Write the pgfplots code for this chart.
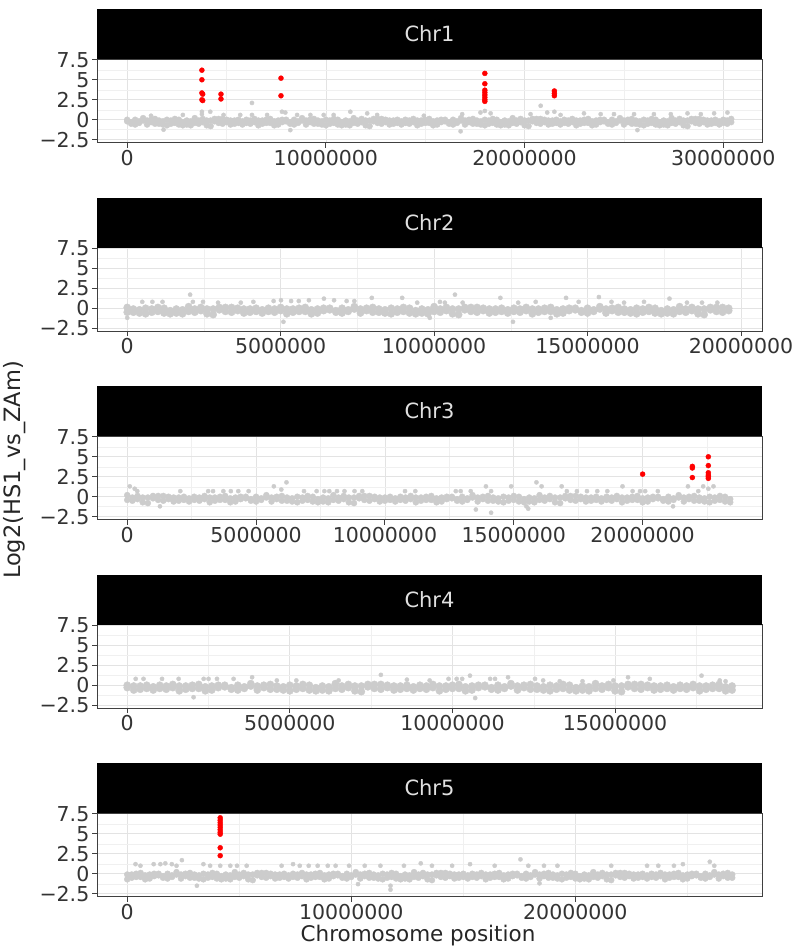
\documentclass[border=0pt]{standalone}
\usepackage{fontspec}
\setmainfont{DejaVu Sans}
\usepackage{pgfplots}
\usepackage{pgfplotstable}
\pgfplotsset{compat=1.18}
\definecolor{ptgrey}{gray}{0.80}
\definecolor{stripfg}{gray}{0.88}

% band tables: x (Mb), two readings a,b per position
\pgfplotstableread{
x a b
0.0 -0.2 0.0
0.2 -0.5 -0.3
0.4 0.0 -0.6
0.6 -0.4 -0.2
0.8 -0.1 0.2
1.0 -0.6 -0.1
1.2 -0.3 0.0
1.4 0.1 -0.5
1.6 -0.5 -0.1
1.8 -0.2 -0.6
2.0 -0.7 0.0
2.2 -0.1 -0.5
2.4 -0.4 0.1
2.6 0.0 -0.6
2.8 -0.3 -0.7
3.0 -0.6 -0.1
3.2 -0.2 -0.7
3.4 0.2 -0.4
3.6 -0.5 -0.1
3.8 -0.3 0.1
4.0 -0.1 -0.7
4.2 -0.8 -0.1
4.4 -0.2 0.1
4.6 -0.4 0.1
4.8 0.1 -0.5
5.0 -0.3 0.0
5.2 -0.6 -0.1
5.4 -0.1 -0.5
5.6 -0.4 0.0
5.8 -0.2 -0.6
6.0 0.0 -0.4
6.2 -0.5 -0.1
6.4 -0.3 0.1
6.6 -0.7 -0.1
6.8 -0.1 -0.5
7.0 -0.4 0.0
7.2 0.1 -0.4
7.4 -0.2 -0.7
7.6 -0.6 -0.1
7.8 -0.3 0.0
8.0 -0.2 0.0
8.2 -0.5 -0.3
8.4 0.0 -0.6
8.6 -0.4 -0.2
8.8 -0.1 0.2
9.0 -0.6 -0.1
9.2 -0.3 0.0
9.4 0.1 -0.5
9.6 -0.5 -0.1
9.8 -0.2 -0.6
10.0 -0.7 0.0
10.2 -0.1 -0.5
10.4 -0.4 0.1
10.6 0.0 -0.6
10.8 -0.3 -0.7
11.0 -0.6 -0.1
11.2 -0.2 -0.7
11.4 0.2 -0.4
11.6 -0.5 -0.1
11.8 -0.3 0.1
12.0 -0.1 -0.7
12.2 -0.8 -0.1
12.4 -0.2 0.1
12.6 -0.4 0.1
12.8 0.1 -0.5
13.0 -0.3 0.0
13.2 -0.6 -0.1
13.4 -0.1 -0.5
13.6 -0.4 0.0
13.8 -0.2 -0.6
14.0 0.0 -0.4
14.2 -0.5 -0.1
14.4 -0.3 0.1
14.6 -0.7 -0.1
14.8 -0.1 -0.5
15.0 -0.4 0.0
15.2 0.1 -0.4
15.4 -0.2 -0.7
15.6 -0.6 -0.1
15.8 -0.3 0.0
16.0 -0.2 0.0
16.2 -0.5 -0.3
16.4 0.0 -0.6
16.6 -0.4 -0.2
16.8 -0.1 0.2
17.0 -0.6 -0.1
17.2 -0.3 0.0
17.4 0.1 -0.5
17.6 -0.5 -0.1
17.8 -0.2 -0.6
18.0 -0.7 0.0
18.2 -0.1 -0.5
18.4 -0.4 0.1
18.6 0.0 -0.6
18.8 -0.3 -0.7
19.0 -0.6 -0.1
19.2 -0.2 -0.7
19.4 0.2 -0.4
19.6 -0.5 -0.1
19.8 -0.3 0.1
20.0 -0.1 -0.7
20.2 -0.8 -0.1
20.4 -0.2 0.1
20.6 -0.4 0.1
20.8 0.1 -0.5
21.0 -0.3 0.0
21.2 -0.6 -0.1
21.4 -0.1 -0.5
21.6 -0.4 0.0
21.8 -0.2 -0.6
22.0 0.0 -0.4
22.2 -0.5 -0.1
22.4 -0.3 0.1
22.6 -0.7 -0.1
22.8 -0.1 -0.5
23.0 -0.4 0.0
23.2 0.1 -0.4
23.4 -0.2 -0.7
23.6 -0.6 -0.1
23.8 -0.3 0.0
24.0 -0.2 0.0
24.2 -0.5 -0.3
24.4 0.0 -0.6
24.6 -0.4 -0.2
24.8 -0.1 0.2
25.0 -0.6 -0.1
25.2 -0.3 0.0
25.4 0.1 -0.5
25.6 -0.5 -0.1
25.8 -0.2 -0.6
26.0 -0.7 0.0
26.2 -0.1 -0.5
26.4 -0.4 0.1
26.6 0.0 -0.6
26.8 -0.3 -0.7
27.0 -0.6 -0.1
27.2 -0.2 -0.7
27.4 0.2 -0.4
27.6 -0.5 -0.1
27.8 -0.3 0.1
28.0 -0.1 -0.7
28.2 -0.8 -0.1
28.4 -0.2 0.1
28.6 -0.4 0.1
28.8 0.1 -0.5
29.0 -0.3 0.0
29.2 -0.6 -0.1
29.4 -0.1 -0.5
29.6 -0.4 0.0
29.8 -0.2 -0.6
30.0 0.0 -0.4
30.2 -0.5 -0.1
30.4 -0.3 0.1
}\bandA

\pgfplotstableread{
x a b
0.0 0.1 -0.5
0.2 -0.5 -0.1
0.4 -0.2 -0.6
0.6 -0.7 0.0
0.8 -0.1 -0.5
1.0 -0.4 0.1
1.2 0.0 -0.6
1.4 -0.3 -0.7
1.6 -0.6 -0.1
1.8 -0.2 -0.7
2.0 0.2 -0.4
2.2 -0.5 -0.1
2.4 -0.3 0.1
2.6 -0.1 -0.7
2.8 -0.8 -0.1
3.0 -0.2 0.1
3.2 -0.4 0.1
3.4 0.1 -0.5
3.6 -0.3 0.0
3.8 -0.6 -0.1
4.0 -0.1 -0.5
4.2 -0.4 0.0
4.4 -0.2 -0.6
4.6 0.0 -0.4
4.8 -0.5 -0.1
5.0 -0.3 0.1
5.2 -0.7 -0.1
5.4 -0.1 -0.5
5.6 -0.4 0.0
5.8 0.1 -0.4
6.0 -0.2 -0.7
6.2 -0.6 -0.1
6.4 -0.3 0.0
6.6 -0.2 0.0
6.8 -0.5 -0.3
7.0 0.0 -0.6
7.2 -0.4 -0.2
7.4 -0.1 0.2
7.6 -0.6 -0.1
7.8 -0.3 0.0
8.0 0.1 -0.5
8.2 -0.5 -0.1
8.4 -0.2 -0.6
8.6 -0.7 0.0
8.8 -0.1 -0.5
9.0 -0.4 0.1
9.2 0.0 -0.6
9.4 -0.3 -0.7
9.6 -0.6 -0.1
9.8 -0.2 -0.7
10.0 0.2 -0.4
10.2 -0.5 -0.1
10.4 -0.3 0.1
10.6 -0.1 -0.7
10.8 -0.8 -0.1
11.0 -0.2 0.1
11.2 -0.4 0.1
11.4 0.1 -0.5
11.6 -0.3 0.0
11.8 -0.6 -0.1
12.0 -0.1 -0.5
12.2 -0.4 0.0
12.4 -0.2 -0.6
12.6 0.0 -0.4
12.8 -0.5 -0.1
13.0 -0.3 0.1
13.2 -0.7 -0.1
13.4 -0.1 -0.5
13.6 -0.4 0.0
13.8 0.1 -0.4
14.0 -0.2 -0.7
14.2 -0.6 -0.1
14.4 -0.3 0.0
14.6 -0.2 0.0
14.8 -0.5 -0.3
15.0 0.0 -0.6
15.2 -0.4 -0.2
15.4 -0.1 0.2
15.6 -0.6 -0.1
15.8 -0.3 0.0
16.0 0.1 -0.5
16.2 -0.5 -0.1
16.4 -0.2 -0.6
16.6 -0.7 0.0
16.8 -0.1 -0.5
17.0 -0.4 0.1
17.2 0.0 -0.6
17.4 -0.3 -0.7
17.6 -0.6 -0.1
17.8 -0.2 -0.7
18.0 0.2 -0.4
18.2 -0.5 -0.1
18.4 -0.3 0.1
18.6 -0.1 -0.7
18.8 -0.8 -0.1
19.0 -0.2 0.1
19.2 -0.4 0.1
19.4 0.1 -0.5
19.6 -0.3 0.0
}\bandB

\pgfplotstableread{
x a b
0.0 0.2 -0.4
0.2 -0.5 -0.1
0.4 -0.3 0.1
0.6 -0.1 -0.7
0.8 -0.8 -0.1
1.0 -0.2 0.1
1.2 -0.4 0.1
1.4 0.1 -0.5
1.6 -0.3 0.0
1.8 -0.6 -0.1
2.0 -0.1 -0.5
2.2 -0.4 0.0
2.4 -0.2 -0.6
2.6 0.0 -0.4
2.8 -0.5 -0.1
3.0 -0.3 0.1
3.2 -0.7 -0.1
3.4 -0.1 -0.5
3.6 -0.4 0.0
3.8 0.1 -0.4
4.0 -0.2 -0.7
4.2 -0.6 -0.1
4.4 -0.3 0.0
4.6 -0.2 0.0
4.8 -0.5 -0.3
5.0 0.0 -0.6
5.2 -0.4 -0.2
5.4 -0.1 0.2
5.6 -0.6 -0.1
5.8 -0.3 0.0
6.0 0.1 -0.5
6.2 -0.5 -0.1
6.4 -0.2 -0.6
6.6 -0.7 0.0
6.8 -0.1 -0.5
7.0 -0.4 0.1
7.2 0.0 -0.6
7.4 -0.3 -0.7
7.6 -0.6 -0.1
7.8 -0.2 -0.7
8.0 0.2 -0.4
8.2 -0.5 -0.1
8.4 -0.3 0.1
8.6 -0.1 -0.7
8.8 -0.8 -0.1
9.0 -0.2 0.1
9.2 -0.4 0.1
9.4 0.1 -0.5
9.6 -0.3 0.0
9.8 -0.6 -0.1
10.0 -0.1 -0.5
10.2 -0.4 0.0
10.4 -0.2 -0.6
10.6 0.0 -0.4
10.8 -0.5 -0.1
11.0 -0.3 0.1
11.2 -0.7 -0.1
11.4 -0.1 -0.5
11.6 -0.4 0.0
11.8 0.1 -0.4
12.0 -0.2 -0.7
12.2 -0.6 -0.1
12.4 -0.3 0.0
12.6 -0.2 0.0
12.8 -0.5 -0.3
13.0 0.0 -0.6
13.2 -0.4 -0.2
13.4 -0.1 0.2
13.6 -0.6 -0.1
13.8 -0.3 0.0
14.0 0.1 -0.5
14.2 -0.5 -0.1
14.4 -0.2 -0.6
14.6 -0.7 0.0
14.8 -0.1 -0.5
15.0 -0.4 0.1
15.2 0.0 -0.6
15.4 -0.3 -0.7
15.6 -0.6 -0.1
15.8 -0.2 -0.7
16.0 0.2 -0.4
16.2 -0.5 -0.1
16.4 -0.3 0.1
16.6 -0.1 -0.7
16.8 -0.8 -0.1
17.0 -0.2 0.1
17.2 -0.4 0.1
17.4 0.1 -0.5
17.6 -0.3 0.0
17.8 -0.6 -0.1
18.0 -0.1 -0.5
18.2 -0.4 0.0
18.4 -0.2 -0.6
18.6 0.0 -0.4
18.8 -0.5 -0.1
19.0 -0.3 0.1
19.2 -0.7 -0.1
19.4 -0.1 -0.5
19.6 -0.4 0.0
19.8 0.1 -0.4
20.0 -0.2 -0.7
20.2 -0.6 -0.1
20.4 -0.3 0.0
20.6 -0.2 0.0
20.8 -0.5 -0.3
21.0 0.0 -0.6
21.2 -0.4 -0.2
21.4 -0.1 0.2
21.6 -0.6 -0.1
21.8 -0.3 0.0
22.0 0.1 -0.5
22.2 -0.5 -0.1
22.4 -0.2 -0.6
22.6 -0.7 0.0
22.8 -0.1 -0.5
23.0 -0.4 0.1
23.2 0.0 -0.6
23.4 -0.3 -0.7
}\bandC

\pgfplotstableread{
x a b
0.0 -0.3 0.0
0.2 -0.6 -0.1
0.4 -0.1 -0.5
0.6 -0.4 0.0
0.8 -0.2 -0.6
1.0 0.0 -0.4
1.2 -0.5 -0.1
1.4 -0.3 0.1
1.6 -0.7 -0.1
1.8 -0.1 -0.5
2.0 -0.4 0.0
2.2 0.1 -0.4
2.4 -0.2 -0.7
2.6 -0.6 -0.1
2.8 -0.3 0.0
3.0 -0.2 0.0
3.2 -0.5 -0.3
3.4 0.0 -0.6
3.6 -0.4 -0.2
3.8 -0.1 0.2
4.0 -0.6 -0.1
4.2 -0.3 0.0
4.4 0.1 -0.5
4.6 -0.5 -0.1
4.8 -0.2 -0.6
5.0 -0.7 0.0
5.2 -0.1 -0.5
5.4 -0.4 0.1
5.6 0.0 -0.6
5.8 -0.3 -0.7
6.0 -0.6 -0.1
6.2 -0.2 -0.7
6.4 0.2 -0.4
6.6 -0.5 -0.1
6.8 -0.3 0.1
7.0 -0.1 -0.7
7.2 -0.8 -0.1
7.4 -0.2 0.1
7.6 -0.4 0.1
7.8 0.1 -0.5
8.0 -0.3 0.0
8.2 -0.6 -0.1
8.4 -0.1 -0.5
8.6 -0.4 0.0
8.8 -0.2 -0.6
9.0 0.0 -0.4
9.2 -0.5 -0.1
9.4 -0.3 0.1
9.6 -0.7 -0.1
9.8 -0.1 -0.5
10.0 -0.4 0.0
10.2 0.1 -0.4
10.4 -0.2 -0.7
10.6 -0.6 -0.1
10.8 -0.3 0.0
11.0 -0.2 0.0
11.2 -0.5 -0.3
11.4 0.0 -0.6
11.6 -0.4 -0.2
11.8 -0.1 0.2
12.0 -0.6 -0.1
12.2 -0.3 0.0
12.4 0.1 -0.5
12.6 -0.5 -0.1
12.8 -0.2 -0.6
13.0 -0.7 0.0
13.2 -0.1 -0.5
13.4 -0.4 0.1
13.6 0.0 -0.6
13.8 -0.3 -0.7
14.0 -0.6 -0.1
14.2 -0.2 -0.7
14.4 0.2 -0.4
14.6 -0.5 -0.1
14.8 -0.3 0.1
15.0 -0.1 -0.7
15.2 -0.8 -0.1
15.4 -0.2 0.1
15.6 -0.4 0.1
15.8 0.1 -0.5
16.0 -0.3 0.0
16.2 -0.6 -0.1
16.4 -0.1 -0.5
16.6 -0.4 0.0
16.8 -0.2 -0.6
17.0 0.0 -0.4
17.2 -0.5 -0.1
17.4 -0.3 0.1
17.6 -0.7 -0.1
17.8 -0.1 -0.5
18.0 -0.4 0.0
18.2 0.1 -0.4
18.4 -0.2 -0.7
18.6 -0.6 -0.1
}\bandD

\pgfplotstableread{
x a b
0.0 -0.7 -0.1
0.2 -0.1 -0.5
0.4 -0.4 0.0
0.6 0.1 -0.4
0.8 -0.2 -0.7
1.0 -0.6 -0.1
1.2 -0.3 0.0
1.4 -0.2 0.0
1.6 -0.5 -0.3
1.8 0.0 -0.6
2.0 -0.4 -0.2
2.2 -0.1 0.2
2.4 -0.6 -0.1
2.6 -0.3 0.0
2.8 0.1 -0.5
3.0 -0.5 -0.1
3.2 -0.2 -0.6
3.4 -0.7 0.0
3.6 -0.1 -0.5
3.8 -0.4 0.1
4.0 0.0 -0.6
4.2 -0.3 -0.7
4.4 -0.6 -0.1
4.6 -0.2 -0.7
4.8 0.2 -0.4
5.0 -0.5 -0.1
5.2 -0.3 0.1
5.4 -0.1 -0.7
5.6 -0.8 -0.1
5.8 -0.2 0.1
6.0 -0.4 0.1
6.2 0.1 -0.5
6.4 -0.3 0.0
6.6 -0.6 -0.1
6.8 -0.1 -0.5
7.0 -0.4 0.0
7.2 -0.2 -0.6
7.4 0.0 -0.4
7.6 -0.5 -0.1
7.8 -0.3 0.1
8.0 -0.7 -0.1
8.2 -0.1 -0.5
8.4 -0.4 0.0
8.6 0.1 -0.4
8.8 -0.2 -0.7
9.0 -0.6 -0.1
9.2 -0.3 0.0
9.4 -0.2 0.0
9.6 -0.5 -0.3
9.8 0.0 -0.6
10.0 -0.4 -0.2
10.2 -0.1 0.2
10.4 -0.6 -0.1
10.6 -0.3 0.0
10.8 0.1 -0.5
11.0 -0.5 -0.1
11.2 -0.2 -0.6
11.4 -0.7 0.0
11.6 -0.1 -0.5
11.8 -0.4 0.1
12.0 0.0 -0.6
12.2 -0.3 -0.7
12.4 -0.6 -0.1
12.6 -0.2 -0.7
12.8 0.2 -0.4
13.0 -0.5 -0.1
13.2 -0.3 0.1
13.4 -0.1 -0.7
13.6 -0.8 -0.1
13.8 -0.2 0.1
14.0 -0.4 0.1
14.2 0.1 -0.5
14.4 -0.3 0.0
14.6 -0.6 -0.1
14.8 -0.1 -0.5
15.0 -0.4 0.0
15.2 -0.2 -0.6
15.4 0.0 -0.4
15.6 -0.5 -0.1
15.8 -0.3 0.1
16.0 -0.7 -0.1
16.2 -0.1 -0.5
16.4 -0.4 0.0
16.6 0.1 -0.4
16.8 -0.2 -0.7
17.0 -0.6 -0.1
17.2 -0.3 0.0
17.4 -0.2 0.0
17.6 -0.5 -0.3
17.8 0.0 -0.6
18.0 -0.4 -0.2
18.2 -0.1 0.2
18.4 -0.6 -0.1
18.6 -0.3 0.0
18.8 0.1 -0.5
19.0 -0.5 -0.1
19.2 -0.2 -0.6
19.4 -0.7 0.0
19.6 -0.1 -0.5
19.8 -0.4 0.1
20.0 0.0 -0.6
20.2 -0.3 -0.7
20.4 -0.6 -0.1
20.6 -0.2 -0.7
20.8 0.2 -0.4
21.0 -0.5 -0.1
21.2 -0.3 0.1
21.4 -0.1 -0.7
21.6 -0.8 -0.1
21.8 -0.2 0.1
22.0 -0.4 0.1
22.2 0.1 -0.5
22.4 -0.3 0.0
22.6 -0.6 -0.1
22.8 -0.1 -0.5
23.0 -0.4 0.0
23.2 -0.2 -0.6
23.4 0.0 -0.4
23.6 -0.5 -0.1
23.8 -0.3 0.1
24.0 -0.7 -0.1
24.2 -0.1 -0.5
24.4 -0.4 0.0
24.6 0.1 -0.4
24.8 -0.2 -0.7
25.0 -0.6 -0.1
25.2 -0.3 0.0
25.4 -0.2 0.0
25.6 -0.5 -0.3
25.8 0.0 -0.6
26.0 -0.4 -0.2
26.2 -0.1 0.2
26.4 -0.6 -0.1
26.6 -0.3 0.0
26.8 0.1 -0.5
27.0 -0.5 -0.1
}\bandE

\pgfplotsset{
  chr/.style={
    width=665bp, height=83.5bp, scale only axis,
    anchor=north west,
    ymin=-2.85, ymax=7.6,
    ytick={-2.5,0,2.5,5,7.5},
    yticklabels={−2.5,0,2.5,5,7.5},
    minor ytick={-1.25,1.25,3.75,6.25},
    grid=both,
    major grid style={draw=black!11, line width=0.7bp},
    minor grid style={draw=black!6, line width=0.45bp},
    axis line style={draw=black!75, line width=0.9bp},
    major tick style={draw=black!75, line width=0.9bp},
    tick align=outside, major tick length=5bp, minor tick length=0pt,
    xtick pos=bottom, ytick pos=left,
    tick label style={font=\fontsize{20.5bp}{24bp}\selectfont, text=black!80},
    yticklabel style={inner sep=2.5bp},
    xticklabel style={inner sep=2.5bp},
  },
  band/.style={only marks, mark=*, mark size=3bp, color=ptgrey},
  bandw/.style={only marks, mark=*, mark size=3.6bp, color=ptgrey},
  out/.style={only marks, mark=*, mark size=2.1bp, color=ptgrey},
  sig/.style={only marks, mark=*, mark size=2.5bp, color=red},
}

\begin{document}
\begin{tikzpicture}
\tikzset{strip/.style={fill=black}, striptext/.style={text=stripfg, font=\fontsize{21bp}{25bp}\selectfont}}

% ---------- Chr1 ----------
\begin{axis}[chr, at={(97bp,-59bp)},
  xmin=-1.52, xmax=31.95,
  xtick={0,10,20,30}, xticklabels={0,10000000,20000000,30000000},
  minor xtick={5,15,25}]
\addplot[band] table[x=x,y=a]{\bandA};
\addplot[band] table[x=x,y=b]{\bandA};
\addplot[out] coordinates {(3.76,1.0)(3.76,0.7)(4.18,1.0)(4.85,0.6)(5.69,0.6)(6.28,2.1)(6.28,0.6)(7.04,0.6)(7.79,1.0)(7.96,0.9)(8.55,0.6)(9.22,0.6)(9.89,0.6)(10.39,0.6)(11.23,1.0)(12.08,0.8)(12.58,0.6)(14.93,0.5)(16.86,0.7)(17.78,0.9)(18.0,1.1)(18.29,0.8)(20.3,0.7)(20.81,1.75)(21.14,0.9)(21.5,1.0)(21.81,0.6)(22.99,0.8)(23.83,0.7)(24.5,0.7)(25.51,0.7)(26.51,0.7)(27.36,0.7)(28.2,0.8)(28.87,0.7)(29.54,0.8)(30.21,0.9)(1.83,-1.25)(8.21,-1.3)(16.78,-1.45)(25.68,-1.3)(2.8,0.6)(1.2,0.5)};
\addplot[sig] coordinates {(3.76,6.2)(3.76,5.0)(3.76,3.35)(3.8,3.2)(3.76,2.5)(3.8,2.4)(4.72,3.2)(4.72,2.6)(7.74,5.2)(7.74,3.0)(18.0,5.8)(18.0,4.5)(18.0,3.7)(18.0,3.4)(18.0,3.1)(18.0,2.8)(18.0,2.5)(18.0,2.3)(21.5,3.6)(21.5,3.3)(21.5,3.0)};
\end{axis}
\fill[strip] (97bp,-9bp) rectangle (762bp,-59bp);
\node[striptext] at (429.5bp,-34bp) {Chr1};

% ---------- Chr2 ----------
\begin{axis}[chr, at={(97bp,-247.5bp)},
  xmin=-0.985, xmax=20.685,
  xtick={0,5,10,15,20}, xticklabels={0,5000000,10000000,15000000,20000000},
  minor xtick={2.5,7.5,12.5,17.5}]
\addplot[bandw] table[x=x,y=a]{\bandB};
\addplot[bandw] table[x=x,y=b]{\bandB};
\addplot[out] coordinates {(0.49,0.8)(0.82,0.8)(1.15,0.8)(2.05,1.7)(2.14,0.8)(2.47,0.8)(2.96,0.7)(3.70,0.7)(4.11,0.8)(4.77,0.9)(5.01,1.0)(5.34,0.9)(5.59,0.9)(5.92,1.0)(6.41,1.2)(6.74,1.0)(7.15,0.9)(7.40,0.9)(7.97,1.3)(8.96,1.3)(9.45,0.7)(10.19,0.8)(10.35,0.7)(10.68,1.7)(10.93,0.7)(12.16,1.3)(12.74,0.7)(13.31,0.8)(14.30,1.3)(14.71,0.8)(15.37,1.4)(15.78,0.8)(16.19,0.7)(16.84,0.8)(17.67,1.2)(18.24,0.7)(18.73,0.7)(19.23,0.7)(0.0,-1.2)(5.09,-1.7)(12.57,-1.7)(13.8,-1.2)(9.86,-1.2)};
\end{axis}
\fill[strip] (97bp,-197.5bp) rectangle (762bp,-247.5bp);
\node[striptext] at (429.5bp,-222.5bp) {Chr2};

% ---------- Chr3 ----------
\begin{axis}[chr, at={(97bp,-436bp)},
  xmin=-1.173, xmax=24.633,
  xtick={0,5,10,15,20}, xticklabels={0,5000000,10000000,15000000,20000000},
  minor xtick={2.5,7.5,12.5,17.5,22.5}]
\addplot[band] table[x=x,y=a]{\bandC};
\addplot[band] table[x=x,y=b]{\bandC};
\addplot[out] coordinates {(0.1,1.3)(0.29,1.0)(0.39,0.7)(1.27,-1.2)(2.06,0.7)(3.14,0.7)(3.33,0.7)(3.73,0.7)(4.02,0.7)(4.31,0.7)(4.71,0.7)(5.69,1.3)(5.98,0.9)(6.18,1.8)(6.86,0.7)(7.35,0.7)(7.65,0.7)(7.84,0.7)(8.14,0.7)(8.43,0.7)(8.82,0.7)(9.12,0.7)(10.78,0.7)(11.18,0.7)(12.75,0.7)(12.94,0.7)(13.33,0.7)(13.92,1.3)(14.12,0.7)(14.9,1.3)(15.49,-1.2)(15.88,1.8)(16.08,1.3)(16.86,1.3)(17.06,0.7)(17.45,0.7)(17.84,0.7)(18.24,0.7)(18.63,0.7)(19.22,1.3)(19.61,0.7)(19.9,0.7)(20.1,0.7)(20.59,0.7)(21.76,1.3)(22.16,0.7)(22.35,1.3)(22.75,1.3)(22.55,1.0)(13.53,-1.6)(14.12,-2.0)(21.18,-1.2)(15.56,-1.5)};
\addplot[sig] coordinates {(20.0,2.83)(21.93,3.8)(21.93,3.6)(21.93,2.4)(22.55,5.0)(22.55,3.9)(22.55,3.0)(22.55,2.7)(22.55,2.5)(22.55,2.3)};
\end{axis}
\fill[strip] (97bp,-386bp) rectangle (762bp,-436bp);
\node[striptext] at (429.5bp,-411bp) {Chr3};

% ---------- Chr4 ----------
\begin{axis}[chr, at={(97bp,-624.5bp)},
  xmin=-0.93, xmax=19.52,
  xtick={0,5,10,15}, xticklabels={0,5000000,10000000,15000000},
  minor xtick={2.5,7.5,12.5,17.5}]
\addplot[bandw] table[x=x,y=a]{\bandD};
\addplot[bandw] table[x=x,y=b]{\bandD};
\addplot[out] coordinates {(0.26,0.8)(0.5,0.8)(1.07,0.8)(1.58,0.8)(2.35,0.8)(2.5,0.8)(2.76,0.8)(3.27,0.8)(3.84,1.0)(2.04,-1.5)(4.6,0.6)(5.2,0.6)(6.5,0.6)(7.8,1.3)(8.6,0.7)(9.3,0.6)(9.88,0.8)(10.13,0.8)(10.3,0.8)(10.54,1.2)(11.16,0.8)(11.31,0.8)(11.71,1.0)(12.54,0.8)(12.79,0.6)(13.3,0.5)(14.0,0.5)(14.95,0.6)(15.4,1.0)(16.07,0.8)(17.66,1.2)(18.22,0.6)(18.4,0.5)(10.7,-1.6)};
\end{axis}
\fill[strip] (97bp,-574.5bp) rectangle (762bp,-624.5bp);
\node[striptext] at (429.5bp,-599.5bp) {Chr4};

% ---------- Chr5 ----------
\begin{axis}[chr, at={(97bp,-813bp)},
  xmin=-1.349, xmax=28.33,
  xtick={0,10,20}, xticklabels={0,10000000,20000000},
  minor xtick={5,15,25}]
\addplot[band] table[x=x,y=a]{\bandE};
\addplot[band] table[x=x,y=b]{\bandE};
\addplot[out] coordinates {(0.37,1.2)(0.59,1.0)(1.18,1.2)(1.48,1.2)(1.7,1.3)(1.99,1.2)(2.2,1.0)(2.44,1.7)(3.4,1.2)(3.7,1.0)(4.15,1.0)(4.6,1.0)(4.9,1.0)(5.33,1.0)(6.89,1.0)(7.4,1.2)(7.7,1.0)(8.1,1.0)(8.5,1.0)(8.95,1.0)(9.3,1.0)(9.9,1.0)(10.6,1.0)(11.3,1.0)(3.11,-1.5)(10.3,-1.3)(11.75,-2.0)(11.75,-1.5)(12.35,1.0)(13.1,1.3)(13.6,1.0)(14.5,1.0)(15.3,1.2)(16.4,1.0)(17.55,1.8)(17.9,1.0)(18.6,1.0)(19.2,1.0)(21.6,1.0)(23.2,1.0)(23.7,1.0)(24.4,1.0)(24.8,1.2)(26.0,1.5)(26.2,1.0)(18.4,-1.2)};
\addplot[sig] coordinates {(4.15,7.0)(4.15,6.7)(4.15,6.4)(4.15,6.1)(4.15,5.8)(4.15,5.5)(4.15,5.2)(4.15,4.95)(4.15,3.25)(4.15,2.26)};
\end{axis}
\fill[strip] (97bp,-763bp) rectangle (762bp,-813bp);
\node[striptext] at (429.5bp,-788bp) {Chr5};

% axis titles
\node[rotate=90, font=\fontsize{22.5bp}{26bp}\selectfont, text=black!85] at (15bp,-470bp) {Log2(HS1\_vs\_ZAm)};
\node[font=\fontsize{21.5bp}{25bp}\selectfont, text=black!85] at (418bp,-936bp) {Chromosome position};

\pgfresetboundingbox
\useasboundingbox (0,0) rectangle (792bp,-949bp);
\end{tikzpicture}
\end{document}
